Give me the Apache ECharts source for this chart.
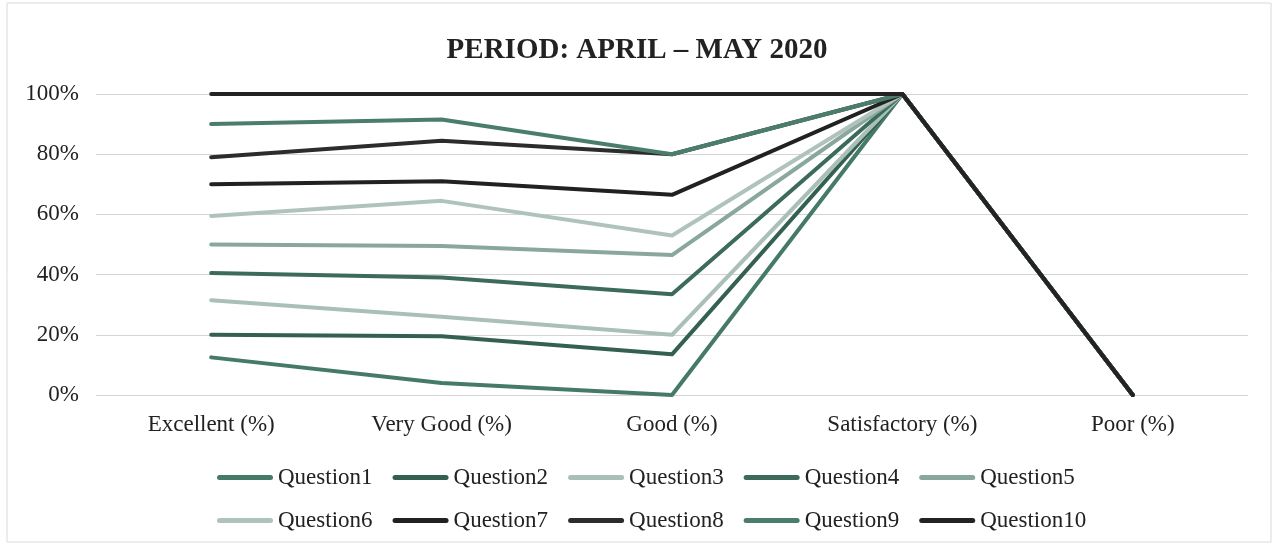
<!DOCTYPE html>
<html>
  <head>
    <meta charset="utf-8" />
    <title>ECharts</title>
    <script src="https://cdn.jsdelivr.net/npm/echarts@6/dist/echarts.min.js"></script>
  </head>
  <body style="margin: 0">
    <div id="main" style="width: 1274px; height: 545px"></div>
    <script type="text/javascript">
      // categories and values
      var categories = ["Excellent (%)", "Very Good (%)", "Good (%)", "Satisfactory (%)", "Poor (%)"];
      var yTicks = [0, 20, 40, 60, 80, 100];

      var question1 = [12.5, 4, 0, 100, 0];
      var question2 = [20, 19.5, 13.5, 100, 0];
      var question3 = [31.5, 26, 20, 100, 0];
      var question4 = [40.5, 39, 33.5, 100, 0];
      var question5 = [50, 49.5, 46.5, 100, 0];
      var question6 = [59.5, 64.5, 53, 100, 0];
      var question7 = [70, 71, 66.5, 100, 0];
      var question8 = [79, 84.5, 80, 100, 0];
      var question9 = [90, 91.5, 80, 100, 0];
      var question10 = [100, 100, 100, 100, 0];

      var names = ["Question1", "Question2", "Question3", "Question4", "Question5",
                   "Question6", "Question7", "Question8", "Question9", "Question10"];
      var values = [question1, question2, question3, question4, question5,
                    question6, question7, question8, question9, question10];
      var colors = ["#457a69", "#34614f", "#a9bfb8", "#3c6b5b", "#8aa79c",
                    "#afc3bc", "#1f2220", "#2a2d2b", "#4b7d6d", "#252223"];

      var serif = "Liberation Serif";

      var myChart = echarts.init(document.getElementById("main"), null, {
        renderer: "canvas",
      });

      var series = names.map(function (n, i) {
        return {
          name: n,
          type: "line",
          data: values[i],
          symbol: "none",
          color: colors[i],
          lineStyle: { width: 4, color: colors[i], cap: "round", join: "round" },
        };
      });

      var option = {
        backgroundColor: "#fff",
        animation: false,
        graphic: [
          {
            type: "rect",
            shape: { x: 7, y: 3, width: 1264, height: 539 },
            style: { fill: "none", stroke: "#dadada", lineWidth: 1 },
            silent: true,
          },
        ],
        title: {
          text: "PERIOD: APRIL – MAY 2020",
          left: "center",
          top: 31,
          textStyle: { fontFamily: serif, fontSize: 29, fontWeight: "bold", color: "#222" },
        },
        legend: {
          data: names,
          left: 212,
          top: 461,
          width: 880,
          icon: "path://M2.5,0 L53.5,0 A2.5,2.5 0 0 1 53.5,5 L2.5,5 A2.5,2.5 0 0 1 2.5,0 Z",
          itemWidth: 56,
          itemHeight: 5,
          itemGap: 20,
          textStyle: { fontFamily: serif, fontSize: 23, color: "#222" },
        },
        grid: { left: 96, right: 26, top: 94, bottom: 150 },
        xAxis: {
          type: "category",
          data: categories,
          boundaryGap: true,
          axisLine: { show: false },
          axisTick: { show: false },
          axisLabel: { fontFamily: serif, fontSize: 23, color: "#222", margin: 18 },
        },
        yAxis: {
          type: "value",
          min: yTicks[0],
          max: yTicks[yTicks.length - 1],
          interval: 20,
          axisLabel: { formatter: "{value}%", fontFamily: serif, fontSize: 23, color: "#222", margin: 17 },
          splitLine: { lineStyle: { color: "#d4d4d4", width: 1 } },
        },
        series: series,
      };
      myChart.setOption(option);
    </script>
  </body>
</html>
